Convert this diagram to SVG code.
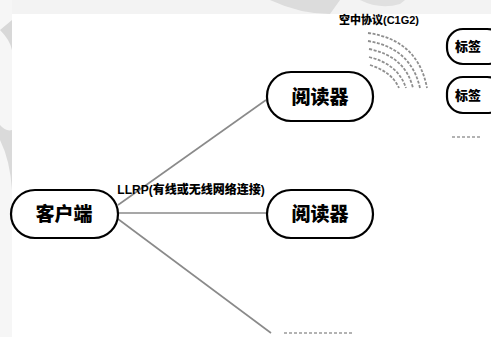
<svg xmlns="http://www.w3.org/2000/svg" width="491" height="337" viewBox="0 0 491 337">
<style>
.node{fill:#fff;stroke:#000;stroke-width:2.2}
.t{font-family:"Liberation Sans","Noto Sans CJK SC",sans-serif;font-weight:900;fill:#000;text-anchor:middle}
.conn{stroke:#8a8a8a;stroke-width:1.6;fill:none}
.wave{stroke:#8f8f8f;stroke-width:1.8;fill:none;stroke-dasharray:3 1.5}
.dash{stroke:#9a9a9a;stroke-width:1.5;stroke-dasharray:3 2;fill:none}
</style>
<rect x="0" y="0" width="491" height="337" fill="#fff"/>
<g id="background">
<rect x="0" y="0" width="491" height="14" fill="#f3f3f3"/>
<rect x="0" y="0" width="12" height="337" fill="#f6f6f6"/>
<path d="M270 0 Q300 14 330 14 L340 0 Z" fill="#dcdcdc"/>
<path d="M360 0 Q380 10 400 4 L405 0 Z" fill="#e0e0e0"/>
<path d="M0 30 Q10 40 12 50 L12 20 Z" fill="#d8d8d8"/>
<path d="M0 140 Q10 160 12 190 L12 130 Q6 132 0 125 Z" fill="#dadada"/>
</g>
<g id="connectors">
<line class="conn" x1="118" y1="205" x2="266" y2="100"/>
<line class="conn" x1="118" y1="213" x2="267" y2="213"/>
<line class="conn" x1="118" y1="219" x2="271" y2="333"/>
<path class="wave" d="M368 33 Q418 40 427 88"/>
<path class="wave" d="M368 41 Q411 48 420 88"/>
<path class="wave" d="M369 49 Q405 56 413 88"/>
<path class="wave" d="M369 57 Q398 64 406 88"/>
<path class="wave" d="M370 65 Q392 72 399 88"/>
<line class="dash" x1="452" y1="137" x2="482" y2="137"/>
<line class="dash" x1="284" y1="333" x2="353" y2="333"/>
</g>
<g id="label-air">
<text class="t" x="379" y="24" font-size="11">空中协议(C1G2)</text>
</g>
<g id="label-llrp">
<text class="t" x="191" y="194" font-size="12">LLRP(有线或无线网络连接)</text>
</g>
<g id="client">
<rect class="node" x="11" y="190" width="107" height="48" rx="24"/>
<text class="t" x="64" y="221" font-size="19">客户端</text>
</g>
<g id="reader1">
<rect class="node" x="267" y="72" width="106" height="49" rx="24"/>
<text class="t" x="320" y="104" font-size="19">阅读器</text>
</g>
<g id="reader2">
<rect class="node" x="267" y="190" width="106" height="48" rx="24"/>
<text class="t" x="320" y="221" font-size="19">阅读器</text>
</g>
<g id="tag1">
<rect class="node" x="447" y="29" width="56" height="35" rx="16"/>
<text class="t" x="468" y="51" font-size="13">标签</text>
</g>
<g id="tag2">
<rect class="node" x="447" y="77" width="56" height="36" rx="16"/>
<text class="t" x="468" y="100" font-size="13">标签</text>
</g>
</svg>
